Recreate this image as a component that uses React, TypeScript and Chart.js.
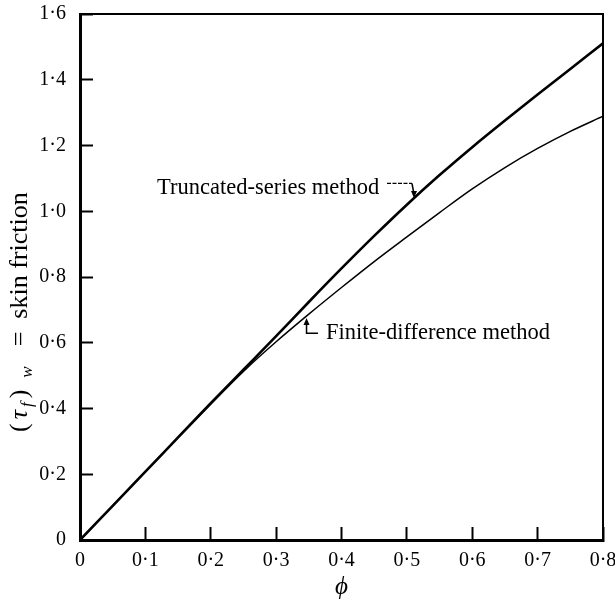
import React, { useEffect, useRef } from 'react';
import { Chart, registerables } from 'chart.js';

Chart.register(...registerables);

// ---- data ----
const phiValues = [0, 0.05, 0.1, 0.15, 0.2, 0.25, 0.3, 0.35, 0.4, 0.45, 0.5, 0.55, 0.6, 0.65, 0.7, 0.75, 0.8];
const truncatedSeries = [0, 0.104, 0.208, 0.312, 0.416, 0.518, 0.620, 0.724, 0.826, 0.925, 1.020, 1.110, 1.195, 1.276, 1.355, 1.433, 1.511];
const finiteDifference = [0, 0.104, 0.208, 0.312, 0.414, 0.513, 0.603, 0.687, 0.768, 0.847, 0.922, 0.996, 1.068, 1.133, 1.191, 1.243, 1.289];

const xTickValues = [0, 0.1, 0.2, 0.3, 0.4, 0.5, 0.6, 0.7, 0.8];
const xTickLabels = ['0', '0·1', '0·2', '0·3', '0·4', '0·5', '0·6', '0·7', '0·8'];
const yTickValues = [0, 0.2, 0.4, 0.6, 0.8, 1.0, 1.2, 1.4, 1.6];
const yTickLabels = ['0', '0·2', '0·4', '0·6', '0·8', '1·0', '1·2', '1·4', '1·6'];

const xAxisTitle = 'ϕ';
const truncatedLabel = 'Truncated-series method';
const finiteLabel = 'Finite-difference method';

const SERIF = '"Liberation Serif", "Times New Roman", serif';

const annotationPlugin = {
  id: 'annotations',
  afterDraw(chart: any) {
    const ctx = chart.ctx as CanvasRenderingContext2D;
    const xs = chart.scales.x;
    const ys = chart.scales.y;
    const { left, right, top, bottom } = chart.chartArea;
    const X = (v: number) => xs.getPixelForValue(v);
    const Y = (v: number) => ys.getPixelForValue(v);
    ctx.save();
    // frame: top and right edges
    ctx.strokeStyle = '#000';
    ctx.lineWidth = 2;
    ctx.beginPath();
    ctx.moveTo(left, top);
    ctx.lineTo(right, top);
    ctx.lineTo(right, bottom);
    ctx.stroke();

    // labels
    ctx.fillStyle = '#000';
    ctx.font = `22.5px ${SERIF}`;
    ctx.textAlign = 'left';
    ctx.textBaseline = 'middle';
    ctx.fillText(truncatedLabel, X(0.1178), Y(1.07));
    ctx.fillText(finiteLabel, X(0.3763), Y(0.629));

    // leader for truncated-series
    ctx.lineWidth = 1.2;
    ctx.setLineDash([4, 1.5]);
    ctx.beginPath();
    ctx.moveTo(X(0.4696), Y(1.085));
    ctx.lineTo(X(0.5078), Y(1.085));
    ctx.stroke();
    ctx.setLineDash([]);
    ctx.lineWidth = 1.5;
    const t1x = X(0.5109), t1y = Y(1.04);
    ctx.beginPath();
    ctx.moveTo(X(0.5078), Y(1.085));
    ctx.lineTo(t1x, t1y - 4);
    ctx.stroke();
    ctx.beginPath();
    ctx.moveTo(t1x, t1y);
    ctx.lineTo(t1x - 3, t1y - 7);
    ctx.lineTo(t1x + 3, t1y - 7);
    ctx.closePath();
    ctx.fill();

    // leader for finite-difference
    const cx = X(0.3465), cy = Y(0.629);
    const t2y = Y(0.675);
    ctx.beginPath();
    ctx.moveTo(X(0.364), cy);
    ctx.lineTo(cx, cy);
    ctx.lineTo(cx, t2y + 4);
    ctx.stroke();
    ctx.beginPath();
    ctx.moveTo(cx, t2y);
    ctx.lineTo(cx - 3, t2y + 7);
    ctx.lineTo(cx + 3, t2y + 7);
    ctx.closePath();
    ctx.fill();

    // y axis title: (τ_f)_w = skin friction, rotated
    ctx.translate(left - 53, bottom - 108);
    ctx.rotate(-Math.PI / 2);
    ctx.textAlign = 'left';
    ctx.textBaseline = 'alphabetic';
    const pieces = [
      { t: '(', font: `26px ${SERIF}`, dy: 0, gap: 4 },
      { t: 'τ', font: `italic 26px ${SERIF}`, dy: 0, gap: 3 },
      { t: 'f', font: `italic 17px ${SERIF}`, dy: 5, gap: 4 },
      { t: ')', font: `26px ${SERIF}`, dy: 0, gap: 12 },
      { t: 'w', font: `italic 17px ${SERIF}`, dy: 5, gap: 20 },
      { t: '=', font: `26px ${SERIF}`, dy: 0, gap: 13 },
      { t: 'skin friction', font: `26px ${SERIF}`, dy: 0, gap: 0 },
    ];
    let s = 0;
    for (const p of pieces) {
      ctx.font = p.font;
      ctx.fillText(p.t, s, p.dy);
      s += ctx.measureText(p.t).width + p.gap;
    }
    ctx.restore();
  },
};

export default function App() {
  const ref = useRef<HTMLCanvasElement>(null);
  useEffect(() => {
    const chart = new Chart(ref.current!, {
      type: 'line',
      data: {
        labels: phiValues,
        datasets: [
          {
            label: truncatedLabel,
            data: phiValues.map((x, i) => ({ x, y: truncatedSeries[i] })),
            borderColor: '#000',
            borderWidth: 2.6,
            pointRadius: 0,
            cubicInterpolationMode: 'monotone',
            fill: false,
          },
          {
            label: finiteLabel,
            data: phiValues.map((x, i) => ({ x, y: finiteDifference[i] })),
            borderColor: '#000',
            borderWidth: 1.5,
            pointRadius: 0,
            cubicInterpolationMode: 'monotone',
            fill: false,
          },
        ],
      },
      options: {
        animation: false,
        responsive: false,
        layout: { padding: { top: 14, right: 12, left: 0, bottom: 0 } },
        plugins: { legend: { display: false }, tooltip: { enabled: false } },
        scales: {
          x: {
            type: 'linear',
            min: 0,
            max: 0.8,
            afterBuildTicks: (s: any) => {
              s.ticks = xTickValues.map((v) => ({ value: v }));
            },
            afterFit: (s: any) => {
              s.height = 62;
              s.paddingLeft = 0;
              s.paddingRight = 0;
            },
            ticks: {
              autoSkip: false,
              maxRotation: 0,
              padding: 22,
              color: '#000',
              font: { family: SERIF, size: 20 },
              callback: (_v: any, i: number) => xTickLabels[i],
            },
            grid: {
              drawOnChartArea: false,
              drawTicks: true,
              tickLength: -13,
              tickWidth: 2,
              tickColor: '#000',
            },
            border: { display: true, color: '#000', width: 3 },
            title: {
              display: true,
              text: xAxisTitle,
              color: '#000',
              font: { family: SERIF, size: 25, style: 'italic' },
              padding: { top: 0, bottom: 0 },
            },
          },
          y: {
            type: 'linear',
            min: 0,
            max: 1.6,
            afterBuildTicks: (s: any) => {
              s.ticks = yTickValues.map((v) => ({ value: v }));
            },
            afterFit: (s: any) => {
              s.width = 80;
              s.paddingTop = 0;
              s.paddingBottom = 0;
            },
            ticks: {
              autoSkip: false,
              padding: 27,
              color: '#000',
              font: { family: SERIF, size: 20 },
              callback: (_v: any, i: number) => yTickLabels[i],
            },
            grid: {
              drawOnChartArea: false,
              drawTicks: true,
              tickLength: -13,
              tickWidth: 2,
              tickColor: '#000',
            },
            border: { display: true, color: '#000', width: 3 },
          },
        },
      },
      plugins: [annotationPlugin],
    } as any);
    return () => chart.destroy();
  }, []);
  return (
    <div style={{ position: 'absolute', left: 0, top: 0, width: 615, height: 602, background: '#fff' }}>
      <canvas ref={ref} width={615} height={602} style={{ display: 'block' }} />
    </div>
  );
}
